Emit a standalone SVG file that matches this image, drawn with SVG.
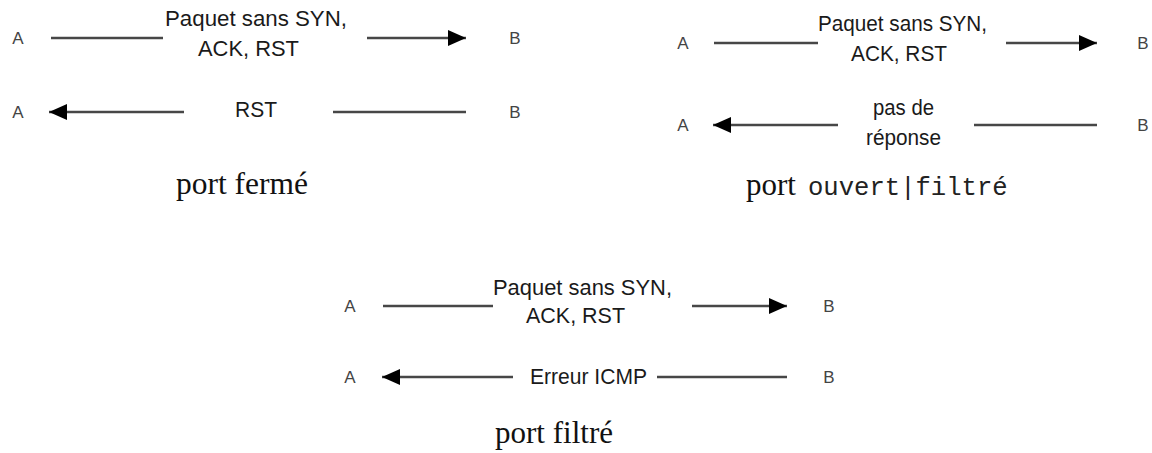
<svg xmlns="http://www.w3.org/2000/svg" width="1152" height="453" viewBox="0 0 1152 453">
<style>
.lbl{font-family:"Liberation Sans",Arial,sans-serif;font-size:22px;fill:#1a1a1a}
.ab{font-family:"Liberation Sans",Arial,sans-serif;font-size:17px;fill:#444;text-anchor:middle}
.cap{font-family:"Liberation Serif","Times New Roman",serif;font-size:31px;fill:#111}
.mono{font-family:"Liberation Mono","Courier New",monospace;font-size:25.6px;fill:#222}
.ln{stroke:#474747;stroke-width:2.6;fill:none}
.arr{marker-end:url(#ah)}
</style>
<defs>
<marker id="ah" markerUnits="userSpaceOnUse" markerWidth="18" markerHeight="16" refX="18" refY="8" orient="auto">
<path d="M0,0 L18,8 L0,16 Z" fill="#000"/>
</marker>
</defs>
<rect width="1152" height="453" fill="#fff"/>
<g id="connectors">
<line class="ln" x1="51" y1="38" x2="163" y2="38"/>
<line class="ln arr" x1="367" y1="38" x2="466" y2="38"/>
<line class="ln arr" x1="184" y1="112" x2="49" y2="112"/>
<line class="ln" x1="333" y1="112" x2="466" y2="112"/>
<line class="ln" x1="714" y1="43" x2="818" y2="43"/>
<line class="ln arr" x1="1006" y1="43" x2="1097" y2="43"/>
<line class="ln arr" x1="838" y1="125" x2="713" y2="125"/>
<line class="ln" x1="974" y1="125" x2="1097" y2="125"/>
<line class="ln" x1="383" y1="306" x2="493" y2="306"/>
<line class="ln arr" x1="692" y1="306" x2="787" y2="306"/>
<line class="ln arr" x1="513" y1="377" x2="382" y2="377"/>
<line class="ln" x1="657" y1="377" x2="787" y2="377"/>
</g>
<g id="panel-ferme">
<text class="ab" x="18" y="44">A</text>
<text class="ab" x="18" y="118">A</text>
<text class="ab" x="515" y="44">B</text>
<text class="ab" x="515" y="118">B</text>
<text class="lbl" x="165" y="26" textLength="182" lengthAdjust="spacingAndGlyphs">Paquet sans SYN,</text>
<text class="lbl" x="198" y="56" textLength="101" lengthAdjust="spacingAndGlyphs">ACK, RST</text>
<text class="lbl" x="235" y="117" textLength="42" lengthAdjust="spacingAndGlyphs">RST</text>
<text class="cap" x="176" y="194" textLength="132" lengthAdjust="spacingAndGlyphs">port fermé</text>
</g>
<g id="panel-ouvert-filtre">
<text class="ab" x="683" y="49">A</text>
<text class="ab" x="683" y="131">A</text>
<text class="ab" x="1143" y="49">B</text>
<text class="ab" x="1143" y="131">B</text>
<text class="lbl" x="818" y="31" font-size="23" textLength="169" lengthAdjust="spacingAndGlyphs">Paquet sans SYN,</text>
<text class="lbl" x="851" y="61" font-size="23" textLength="96" lengthAdjust="spacingAndGlyphs">ACK, RST</text>
<text class="lbl" x="873" y="115" font-size="23" textLength="61" lengthAdjust="spacingAndGlyphs">pas de</text>
<text class="lbl" x="866" y="145" font-size="23" textLength="75" lengthAdjust="spacingAndGlyphs">réponse</text>
<text class="cap" y="195"><tspan x="746">port</tspan><tspan class="mono" x="808">ouvert|filtré</tspan></text>
</g>
<g id="panel-filtre">
<text class="ab" x="350" y="312">A</text>
<text class="ab" x="350" y="383">A</text>
<text class="ab" x="829" y="312">B</text>
<text class="ab" x="829" y="383">B</text>
<text class="lbl" x="493" y="295" textLength="179" lengthAdjust="spacingAndGlyphs">Paquet sans SYN,</text>
<text class="lbl" x="526" y="323" textLength="99" lengthAdjust="spacingAndGlyphs">ACK, RST</text>
<text class="lbl" x="530" y="384" textLength="117" lengthAdjust="spacingAndGlyphs">Erreur ICMP</text>
<text class="cap" x="495" y="443" textLength="118" lengthAdjust="spacingAndGlyphs">port filtré</text>
</g>
</svg>
